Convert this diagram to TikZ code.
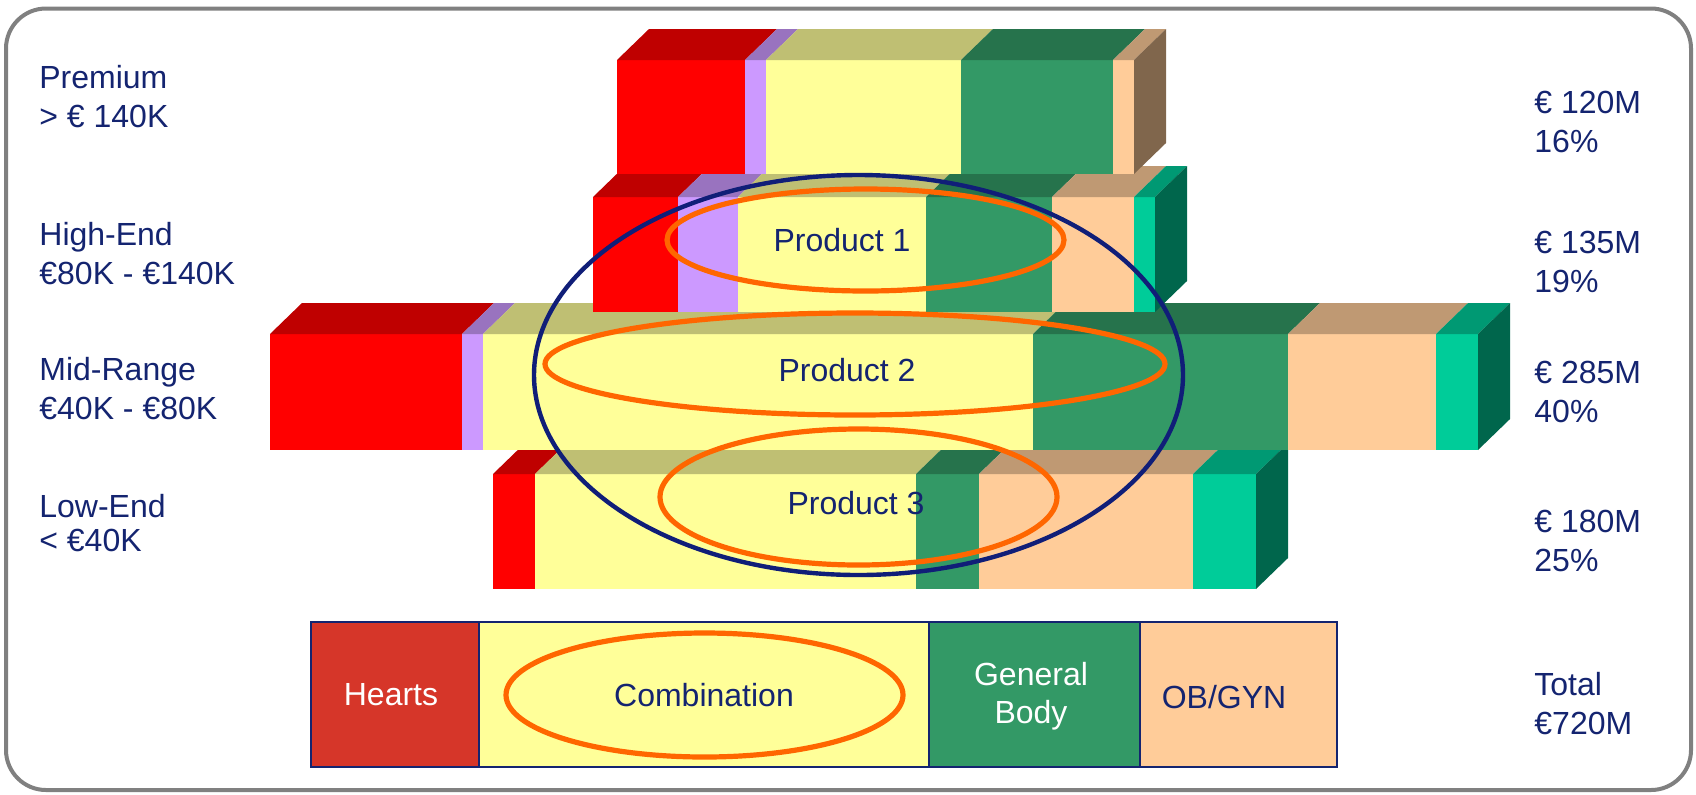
\documentclass[tikz,border=0pt]{standalone}
\usepackage{fontspec}
\setmainfont{Liberation Sans}

\definecolor{navytxt}{RGB}{20,36,112}
\definecolor{ringnavy}{RGB}{16,30,120}
\definecolor{ringorange}{RGB}{255,102,0}
\definecolor{framegray}{RGB}{128,128,128}
\definecolor{cred}{RGB}{255,0,0}
\definecolor{clav}{RGB}{204,153,255}
\definecolor{cyel}{RGB}{255,255,153}
\definecolor{cgrn}{RGB}{51,153,102}
\definecolor{cpch}{RGB}{255,204,153}
\definecolor{ctel}{RGB}{0,204,153}
\definecolor{cheart}{RGB}{214,54,41}

% one coloured slice of a 3d bar: x from, x to, y top, y bottom, colour
\newcommand{\barface}[5]{%
  \fill[#5] (#1,#3) rectangle (#2,#4);
  \fill[#5!75!black] (#1,#3) -- (#1+32,#3-31) -- (#2+32,#3-31) -- (#2,#3) -- cycle;}
% right hand side of a bar: x, y top, y bottom, colour
\newcommand{\barcap}[4]{%
  \fill[#4!50!black] (#1,#2) -- (#1+32,#2-31) -- (#1+32,#3-31) -- (#1,#3) -- cycle;}

\begin{document}
\begin{tikzpicture}[x=0.5pt,y=0.5pt,yscale=-1,xscale=1,
  txt/.style={inner sep=0pt, text=navytxt, font=\fontsize{16}{19.5}\selectfont, align=left},
  legtxt/.style={inner sep=0pt, font=\fontsize{16}{19}\selectfont, align=center},
  ring/.style={draw=ringorange, line width=2.6pt},
  bigring/.style={draw=ringnavy, line width=2.2pt},
  legbox/.style={draw=navytxt, line width=0.8pt}]
\useasboundingbox (0,0) rectangle (1696,794);
\draw[framegray, line width=2pt, rounded corners=20pt] (6,8.5) rectangle (1691,790);

% low-end
\barface{493}{535}{474}{589}{cred}
\barface{535}{916}{474}{589}{cyel}
\barface{916}{979}{474}{589}{cgrn}
\barface{979}{1193}{474}{589}{cpch}
\barface{1193}{1256}{474}{589}{ctel}
\barcap{1256}{474}{589}{ctel}
% mid-range
\barface{270}{462}{334}{450}{cred}
\barface{462}{483}{334}{450}{clav}
\barface{483}{1033}{334}{450}{cyel}
\barface{1033}{1288}{334}{450}{cgrn}
\barface{1288}{1436}{334}{450}{cpch}
\barface{1436}{1478}{334}{450}{ctel}
\barcap{1478}{334}{450}{ctel}
% high-end
\barface{593}{678}{197}{312}{cred}
\barface{678}{738}{197}{312}{clav}
\barface{738}{926}{197}{312}{cyel}
\barface{926}{1052}{197}{312}{cgrn}
\barface{1052}{1134}{197}{312}{cpch}
\barface{1134}{1155}{197}{312}{ctel}
\barcap{1155}{197}{312}{ctel}
% premium
\barface{617}{745}{60}{174}{cred}
\barface{745}{766}{60}{174}{clav}
\barface{766}{961}{60}{174}{cyel}
\barface{961}{1113}{60}{174}{cgrn}
\barface{1113}{1134}{60}{174}{cpch}
\barcap{1134}{60}{174}{cpch}

% rings
\draw[bigring] (858.5,375) ellipse (324.5 and 200);
\draw[ring] (865.5,240) ellipse (198.5 and 51);
\draw[ring] (855,364) ellipse (310 and 51);
\draw[ring] (858.5,497) ellipse (198.5 and 68);

\node[txt] (prod1) at (842,240) {Product 1};
\node[txt] (prod2) at (847,370) {Product 2};
\node[txt] (prod3) at (856,503) {Product 3};

% segments on the left
\node[txt, anchor=west] (premium) at (39,97) {Premium\\> € 140K};
\node[txt, anchor=west] (highend) at (39,254) {High-End\\€80K - €140K};
\node[txt, anchor=west] (midrange) at (39,389) {Mid-Range\\€40K - €80K};
\node[txt, anchor=west] (lowend) at (39,523) {Low-End\\[-2.5pt]< €40K};

% values on the right
\node[txt, anchor=west] (valpremium) at (1534,122) {€ 120M\\16\%};
\node[txt, anchor=west] (valhigh) at (1534,262) {€ 135M\\19\%};
\node[txt, anchor=west] (valmid) at (1534,392) {€ 285M\\40\%};
\node[txt, anchor=west] (vallow) at (1534,541) {€ 180M\\25\%};
\node[txt, anchor=west] (total) at (1534,704) {Total\\€720M};

% legend
\draw[legbox, fill=cheart] (311,622) rectangle (479,767);
\draw[legbox, fill=cyel] (479,622) rectangle (929,767);
\draw[legbox, fill=cgrn] (929,622) rectangle (1140,767);
\draw[legbox, fill=cpch] (1140,622) rectangle (1337,767);
\draw[ring] (704.5,695) ellipse (198.5 and 62);
\node[legtxt, text=white] (hearts) at (391,695) {Hearts};
\node[legtxt, text=navytxt] (combination) at (704,695) {Combination};
\node[legtxt, text=white] (general) at (1031,696) {General\\Body};
\node[legtxt, text=navytxt] (obgyn) at (1224,697) {OB/GYN};
\end{tikzpicture}
\end{document}
